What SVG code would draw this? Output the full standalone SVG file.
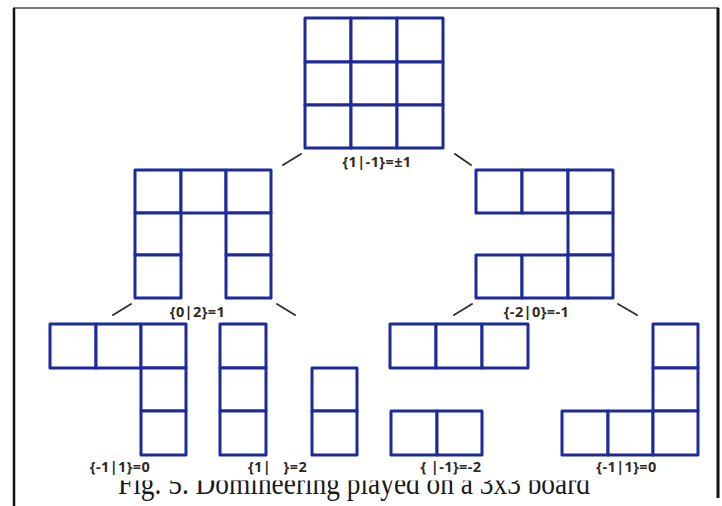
<svg xmlns="http://www.w3.org/2000/svg" width="722" height="506" viewBox="0 0 722 506">
  <style>
    .cell { fill: #ffffff; stroke: #1c2b99; stroke-width: 3; stroke-linejoin: round; }
    .val { font-family: "Open Sans", "Liberation Sans", sans-serif; font-weight: 700; font-size: 14.5px; fill: #2f2b22; text-anchor: middle; letter-spacing: 0.4px; }
    .edge { stroke: #333333; stroke-width: 2; stroke-linecap: round; }
    .cap { font-family: "Liberation Serif", "DejaVu Serif", serif; font-size: 32px; fill: #1a1a1a; }
  </style>
  <defs>
    <clipPath id="capClip">
      <rect x="0" y="480.5" width="722" height="26"/>
    </clipPath>
  </defs>
  <rect x="0" y="0" width="722" height="506" fill="#ffffff"/>

  <!-- page frame -->
  <g id="frame">
    <line x1="13" y1="8" x2="719" y2="8" stroke="#7a7a7a" stroke-width="2"/>
    <line x1="14" y1="8" x2="14" y2="506" stroke="#111111" stroke-width="2.5"/>
    <line x1="718" y1="8" x2="718" y2="498" stroke="#111111" stroke-width="3"/>
  </g>

  <!-- tree edges -->
  <g id="connectors">
    <line class="edge" x1="283" y1="165" x2="301" y2="154"/>
    <line class="edge" x1="455" y1="154" x2="471" y2="165"/>
    <line class="edge" x1="113" y1="315" x2="131" y2="304"/>
    <line class="edge" x1="277" y1="304" x2="295" y2="315"/>
    <line class="edge" x1="454" y1="315" x2="472" y2="304"/>
    <line class="edge" x1="618" y1="304" x2="637" y2="315"/>
  </g>

  <!-- root: full 3x3 board -->
  <g id="root">
    <rect class="cell" x="305" y="18" width="46" height="44"/>
    <rect class="cell" x="351" y="18" width="46" height="44"/>
    <rect class="cell" x="397" y="18" width="46" height="44"/>
    <rect class="cell" x="305" y="62" width="46" height="43"/>
    <rect class="cell" x="351" y="62" width="46" height="43"/>
    <rect class="cell" x="397" y="62" width="46" height="43"/>
    <rect class="cell" x="305" y="105" width="46" height="43"/>
    <rect class="cell" x="351" y="105" width="46" height="43"/>
    <rect class="cell" x="397" y="105" width="46" height="43"/>
    <text class="val" x="377" y="167">{1|-1}=±1</text>
  </g>

  <!-- left child -->
  <g id="left">
    <rect class="cell" x="135" y="170" width="46" height="43"/>
    <rect class="cell" x="181" y="170" width="45" height="43"/>
    <rect class="cell" x="226" y="170" width="45" height="43"/>
    <rect class="cell" x="135" y="213" width="46" height="42"/>
    <rect class="cell" x="135" y="255" width="46" height="43"/>
    <rect class="cell" x="226" y="213" width="45" height="42"/>
    <rect class="cell" x="226" y="255" width="45" height="43"/>
    <text class="val" x="197.5" y="317">{0|2}=1</text>
  </g>

  <!-- right child -->
  <g id="right">
    <rect class="cell" x="476" y="170" width="46" height="43"/>
    <rect class="cell" x="522" y="170" width="46" height="43"/>
    <rect class="cell" x="568" y="170" width="45" height="43"/>
    <rect class="cell" x="568" y="213" width="45" height="42"/>
    <rect class="cell" x="476" y="255" width="46" height="43"/>
    <rect class="cell" x="522" y="255" width="46" height="43"/>
    <rect class="cell" x="568" y="255" width="45" height="43"/>
    <text class="val" x="536.5" y="317">{-2|0}=-1</text>
  </g>

  <!-- left-left grandchild -->
  <g id="ll">
    <rect class="cell" x="50" y="324" width="46" height="44"/>
    <rect class="cell" x="96" y="324" width="45" height="44"/>
    <rect class="cell" x="141" y="324" width="45" height="44"/>
    <rect class="cell" x="141" y="368" width="45" height="43"/>
    <rect class="cell" x="141" y="411" width="45" height="44"/>
    <text class="val" x="120" y="472">{-1|1}=0</text>
  </g>

  <!-- left-right grandchild -->
  <g id="lr">
    <rect class="cell" x="220" y="324" width="46" height="44"/>
    <rect class="cell" x="220" y="368" width="46" height="43"/>
    <rect class="cell" x="220" y="411" width="46" height="44"/>
    <text class="val" x="277.5" y="472" xml:space="preserve">{1|   }=2</text>
  </g>

  <!-- left-right second component -->
  <g id="lr2">
    <rect class="cell" x="312" y="368" width="45" height="43"/>
    <rect class="cell" x="312" y="411" width="45" height="44"/>
  </g>

  <!-- right-left grandchild -->
  <g id="rl">
    <rect class="cell" x="390" y="324" width="46" height="44"/>
    <rect class="cell" x="436" y="324" width="46" height="44"/>
    <rect class="cell" x="482" y="324" width="46" height="44"/>
    <rect class="cell" x="391" y="411" width="46" height="44"/>
    <rect class="cell" x="437" y="411" width="45" height="44"/>
    <text class="val" x="451" y="472" xml:space="preserve">{ |-1}=-2</text>
  </g>

  <!-- right-right grandchild -->
  <g id="rr">
    <rect class="cell" x="653" y="324" width="45" height="44"/>
    <rect class="cell" x="653" y="368" width="45" height="43"/>
    <rect class="cell" x="562" y="411" width="46" height="44"/>
    <rect class="cell" x="608" y="411" width="45" height="44"/>
    <rect class="cell" x="653" y="411" width="45" height="44"/>
    <text class="val" x="626.5" y="472">{-1|1}=0</text>
  </g>

  <!-- figure caption, upper part cut off -->
  <g clip-path="url(#capClip)">
    <text class="cap" x="118" y="494" textLength="472" lengthAdjust="spacingAndGlyphs">Fig. 5. Domineering played on a 3x3 board</text>
  </g>
</svg>
